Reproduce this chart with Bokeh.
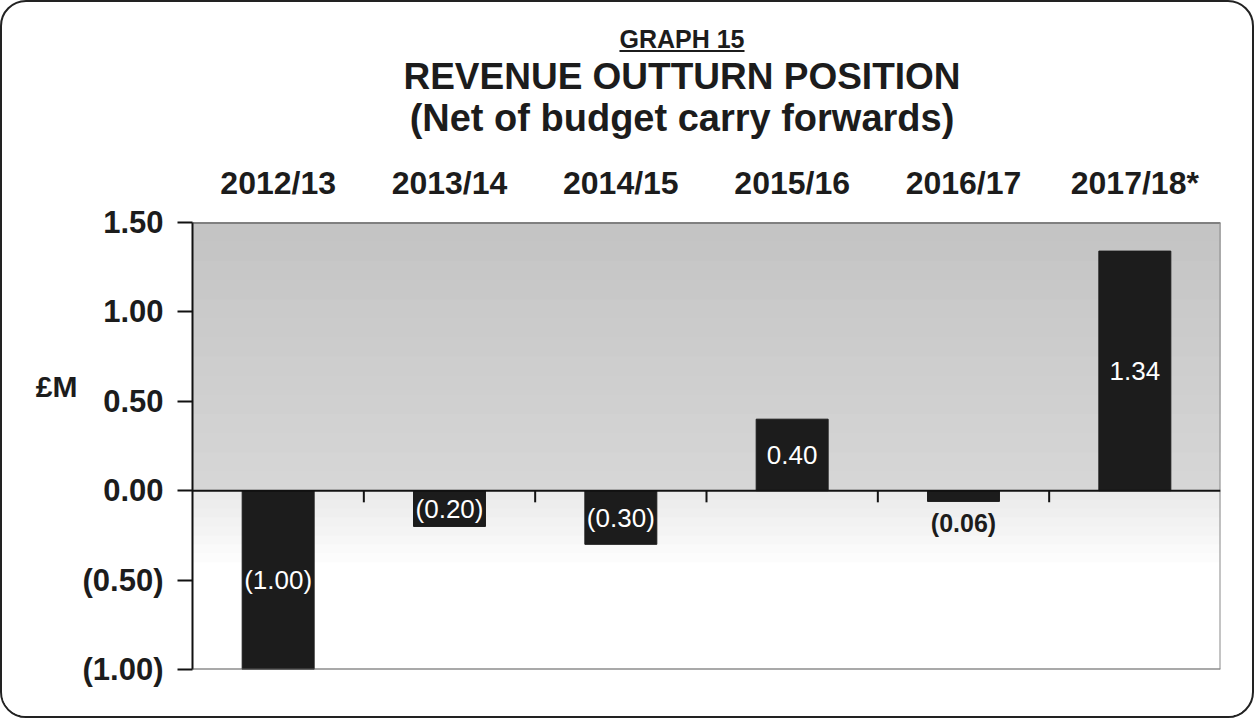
from bokeh.plotting import figure
from bokeh.models import Range1d, LinearAxis, FixedTicker, ColumnDataSource, Div, Span
from bokeh.layouts import column
from bokeh.core.properties import value
from bokeh.embed import file_html
from bokeh.resources import INLINE

# ---------------- data ----------------
categories = ["2012/13", "2013/14", "2014/15", "2015/16", "2016/17", "2017/18*"]
values = [-1.00, -0.20, -0.30, 0.40, -0.06, 1.34]
value_labels = ["(1.00)", "(0.20)", "(0.30)", "0.40", "(0.06)", "1.34"]
y_ticks = [-1.0, -0.5, 0.0, 0.5, 1.0, 1.5]
y_tick_labels = ["(1.00)", "(0.50)", "0.00", "0.50", "1.00", "1.50"]
unit_label = "£M"
title_lines = ["GRAPH 15", "REVENUE OUTTURN POSITION", "(Net of budget carry forwards)"]

FONT = "Liberation Sans"
INK = "#1c1c1c"
Y_MIN, Y_MAX = -1.0, 1.5
N = len(categories)

# ---------------- title block ----------------
title_html = (
    f'<div style="position:relative;width:1240px;height:140px;font-family:\'{FONT}\',Arial,sans-serif;'
    f'font-weight:bold;color:{INK};">'
    f'<div style="position:absolute;left:175px;width:1000px;top:20px;text-align:center;'
    f'font-size:25px;line-height:25px;"><span style="text-decoration:underline;text-decoration-thickness:2px;'
    f'text-underline-offset:2px;">{title_lines[0]}</span></div>'
    f'<div style="position:absolute;left:175px;width:1000px;top:51px;text-align:center;'
    f'font-size:37px;line-height:37px;">{title_lines[1]}</div>'
    f'<div style="position:absolute;left:175px;width:1000px;top:92px;text-align:center;'
    f'font-size:38px;line-height:38px;">{title_lines[2]}</div>'
    '</div>'
)
div = Div(text=title_html, width=1240, height=140)

# ---------------- figure ----------------
p = figure(width=1240, height=564, x_range=Range1d(0, N), y_range=Range1d(Y_MIN, Y_MAX),
           output_backend="svg", toolbar_location=None,
           min_border_left=190, min_border_right=22, min_border_top=70, min_border_bottom=47,
           x_axis_location=None, y_axis_location=None)
p.grid.visible = False
p.background_fill_color = "white"
p.border_fill_color = "white"
p.outline_line_color = None

# background shading (above zero: grey, darker upward; below zero: light grey fading to white)
def bands_up(lo, hi, c_lo, c_hi, n):
    # each band runs from its start up to `hi`; later (higher) bands are drawn over earlier ones
    bots, tops, cols = [], [], []
    for i in range(n):
        f = i / (n - 1)
        g = round(c_lo + (c_hi - c_lo) * f)
        bots.append(lo + (hi - lo) * i / n); tops.append(hi); cols.append("#%02x%02x%02x" % (g, g, g))
    return bots, tops, cols

def bands_down(lo, hi, c_lo, c_hi, n):
    # each band runs from `lo` up to its end; later (higher) bands drawn over earlier ones
    bots, tops, cols = [], [], []
    for i in range(n):
        f = i / (n - 1)
        g = round(c_lo + (c_hi - c_lo) * f)
        bots.append(lo + (hi - lo) * i / n); tops.append(hi); cols.append("#%02x%02x%02x" % (g, g, g))
    return bots, tops, cols

b1, t1, c1 = bands_up(0.0, Y_MAX, 0xd6, 0xc4, 14)
b2, t2, c2 = bands_down(-0.45, 0.0, 0xff, 0xea, 9)
bg = ColumnDataSource(dict(bottom=b2 + b1, top=t2 + t1, color=c2 + c1))
p.quad(left=0, right=N, bottom="bottom", top="top", fill_color="color", line_color=None,
       source=bg, level="underlay")

# frame edges
p.add_layout(Span(location=Y_MAX, dimension="width", line_color="#3a3a3a", line_width=2))
p.add_layout(Span(location=Y_MIN, dimension="width", line_color="#555555", line_width=2))
p.add_layout(Span(location=N, dimension="height", line_color="#8a8a8a", line_width=2))

# bars
xs = [i + 0.5 for i in range(N)]
src = ColumnDataSource(dict(x=xs, top=values, cat=categories))
p.vbar(x="x", top="top", bottom=0, width=0.42, fill_color=INK, line_color=INK, source=src)

# zero line + category divider ticks
p.add_layout(Span(location=0, dimension="width", line_color="#111111", line_width=2))
p.segment(x0=list(range(1, N)), x1=list(range(1, N)), y0=[0] * (N - 1), y1=[-0.065] * (N - 1),
          line_color="#111111", line_width=2)

# value labels
inside = [abs(v) >= 0.1 for v in values]
in_src = ColumnDataSource(dict(
    x=[x for x, k in zip(xs, inside) if k],
    y=[v / 2 for v, k in zip(values, inside) if k],
    t=[t for t, k in zip(value_labels, inside) if k]))
out_src = ColumnDataSource(dict(
    x=[x for x, k in zip(xs, inside) if not k],
    y=[v for v, k in zip(values, inside) if not k],
    t=[t for t, k in zip(value_labels, inside) if not k]))
p.text(x="x", y="y", text="t", source=in_src, text_color="white", text_font=value(FONT),
       text_font_size="26px", text_align="center", text_baseline="middle")
p.text(x="x", y="y", text="t", source=out_src, text_color=INK, text_font=value(FONT),
       text_font_size="25px", text_font_style="bold", text_align="center", text_baseline="top",
       y_offset=8)

# category axis (above)
top_axis = LinearAxis(ticker=FixedTicker(ticks=xs),
                      major_label_overrides={x: c for x, c in zip(xs, categories)})
top_axis.axis_line_color = None
top_axis.major_tick_line_color = None
top_axis.minor_tick_line_color = None
top_axis.major_label_text_font = FONT
top_axis.major_label_text_font_style = "bold"
top_axis.major_label_text_font_size = "32px"
top_axis.major_label_text_color = INK
top_axis.major_label_standoff = 16
p.add_layout(top_axis, "above")

# value axis (left)
y_axis = LinearAxis(ticker=FixedTicker(ticks=y_ticks),
                    major_label_overrides={t: l for t, l in zip(y_ticks, y_tick_labels)})
y_axis.axis_line_color = "#111111"
y_axis.axis_line_width = 2
y_axis.major_tick_line_color = "#111111"
y_axis.major_tick_line_width = 2
y_axis.major_tick_out = 15
y_axis.major_tick_in = 0
y_axis.minor_tick_line_color = None
y_axis.major_label_text_font = FONT
y_axis.major_label_text_font_style = "bold"
y_axis.major_label_text_font_size = "31px"
y_axis.major_label_text_color = INK
y_axis.major_label_standoff = 14
p.add_layout(y_axis, "left")

# unit label as an outer left axis
UNIT_POS = 0.58
unit_axis = LinearAxis(ticker=FixedTicker(ticks=[UNIT_POS]), major_label_overrides={UNIT_POS: unit_label})
unit_axis.axis_line_color = None
unit_axis.major_tick_line_color = None
unit_axis.minor_tick_line_color = None
unit_axis.major_label_text_font = FONT
unit_axis.major_label_text_font_style = "bold"
unit_axis.major_label_text_font_size = "30px"
unit_axis.major_label_text_color = INK
unit_axis.major_label_standoff = -4
p.add_layout(unit_axis, "left")

layout = column(div, p, spacing=0,
                styles={"border": "2px solid #222", "border-radius": "26px", "background": "white",
                        "overflow": "hidden"})

open("out.html", "w").write(file_html(layout, INLINE))
